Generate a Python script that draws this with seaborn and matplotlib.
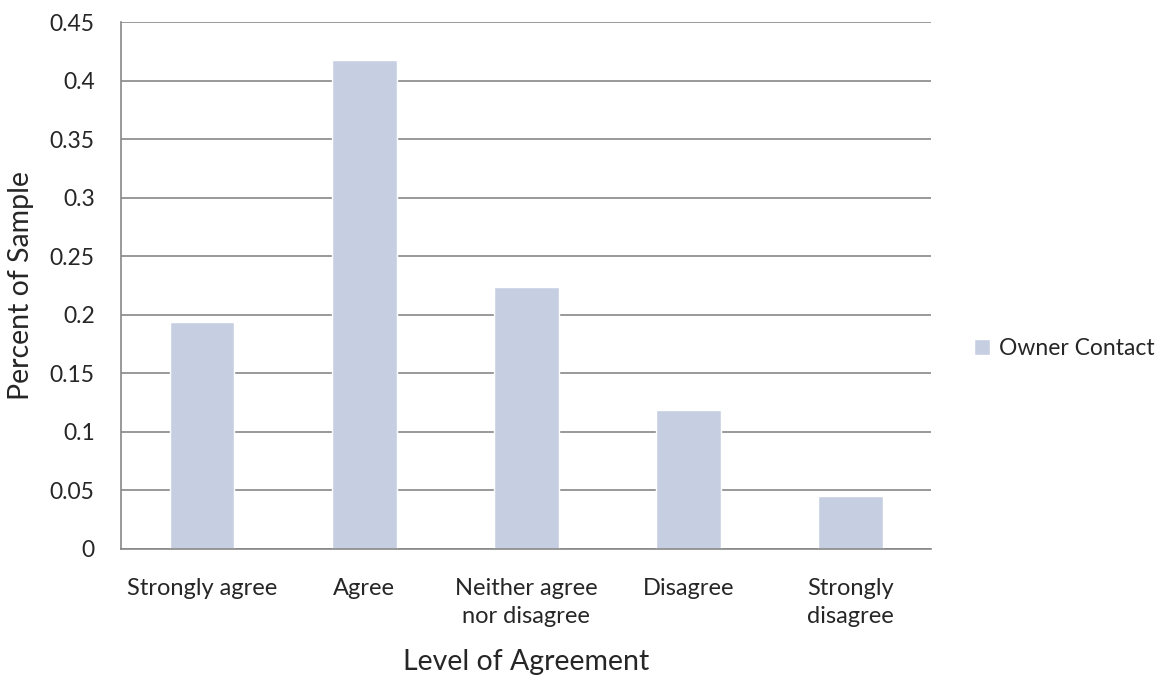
import matplotlib
matplotlib.use("Agg")
import matplotlib.pyplot as plt
import seaborn as sns
import pandas as pd

categories = ["Strongly agree", "Agree", "Neither agree\nnor disagree", "Disagree", "Strongly\ndisagree"]
owner_contact = [0.194, 0.418, 0.224, 0.119, 0.045]
y_ticks = [0, 0.05, 0.1, 0.15, 0.2, 0.25, 0.3, 0.35, 0.4, 0.45]
y_tick_labels = ["0", "0.05", "0.1", "0.15", "0.2", "0.25", "0.3", "0.35", "0.4", "0.45"]
series_name = "Owner Contact"

sns.set_theme(style="white")
plt.rcParams["font.family"] = ["Lato", "DejaVu Sans"]

df = pd.DataFrame({"Level": categories, "Share": owner_contact, "Series": series_name})

fig = plt.figure(figsize=(11.64, 6.75), dpi=100)
ax = fig.add_axes([0.104, 0.187, 0.696, 0.780])

bar_color = "#C6CFE2"
sns.barplot(data=df, x="Level", y="Share", hue="Series", palette=[bar_color],
            width=0.4, ax=ax, saturation=1, legend=True)

ax.set_ylim(0, 0.45)
ax.set_xlim(-0.5, len(categories) - 0.5)
ax.set_yticks(y_ticks)
ax.set_yticklabels(y_tick_labels, fontsize=16.5)
ax.tick_params(axis="x", labelsize=17, length=0, pad=21)
ax.tick_params(axis="y", length=0, pad=19)
for lbl in ax.get_xticklabels():
    lbl.set_linespacing(1.4)
ax.yaxis.grid(True, color="#888888", linewidth=1.2)
ax.set_axisbelow(True)

for side in ["top", "right"]:
    ax.spines[side].set_visible(False)
for side in ["left", "bottom"]:
    ax.spines[side].set_color("#888888")
    ax.spines[side].set_linewidth(1.2)

ax.set_xlabel("Level of Agreement", fontsize=20.5, labelpad=16)
ax.set_ylabel("Percent of Sample", fontsize=20.5)
ax.yaxis.set_label_coords(-0.108, 0.5)

leg = ax.legend(loc="center left", bbox_to_anchor=(1.027, 0.38), frameon=False,
                fontsize=16.5, handlelength=0.72, handleheight=0.72, handletextpad=0.4)

fig.savefig("out.png", dpi=100, facecolor="white")
